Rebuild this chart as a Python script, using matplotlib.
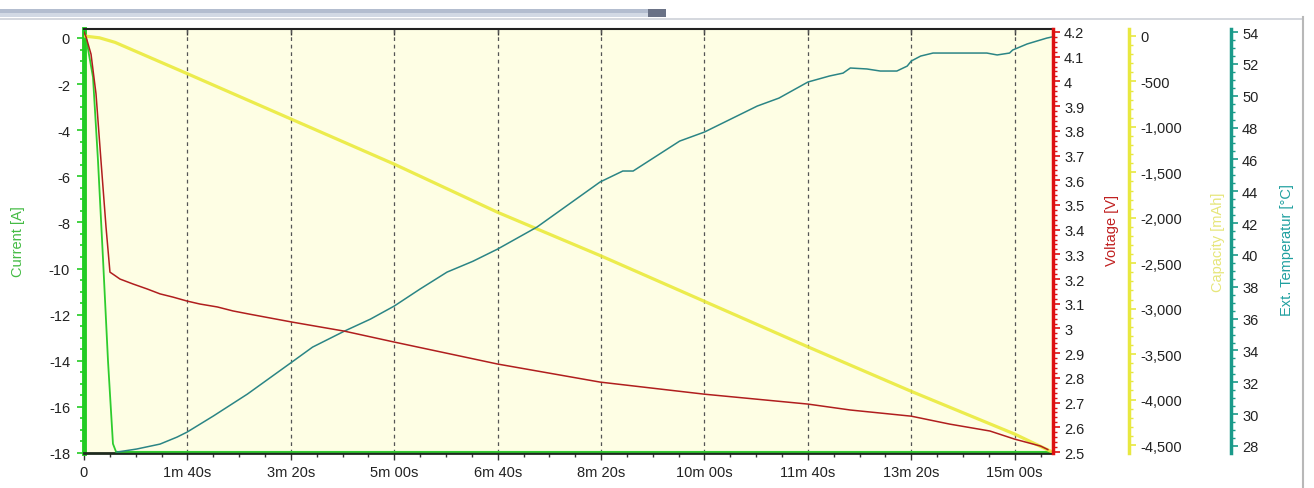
import numpy as np
import matplotlib
matplotlib.use("Agg")
import matplotlib.pyplot as plt
from matplotlib.ticker import MultipleLocator, FuncFormatter
from matplotlib.patches import Rectangle
from matplotlib.lines import Line2D

plt.rcParams["font.family"] = ["Liberation Sans", "DejaVu Sans"]
plt.rcParams["axes.unicode_minus"] = False

# time in seconds
time_current = [0, 2, 8.7, 13.5, 18.4, 23.2, 28, 31, 937]
current = [0, 0, -1.7, -5.3, -9.6, -14.0, -17.6, -17.95, -17.95]

time_voltage = [0, 2, 6.8, 11.6, 16.4, 21.3, 25.1, 30, 34.8, 47.4, 61, 73.5, 86,
                99.6, 112, 129, 144, 160, 201, 252, 300, 400, 499, 600, 700, 741,
                800, 837, 876, 900, 925, 932]
voltage = [4.20, 4.18, 4.11, 3.95, 3.68, 3.41, 3.228, 3.214, 3.200, 3.180, 3.160,
           3.140, 3.127, 3.111, 3.099, 3.087, 3.071, 3.058, 3.026, 2.989, 2.945,
           2.856, 2.783, 2.734, 2.694, 2.670, 2.645, 2.613, 2.585, 2.552, 2.524,
           2.510]

time_capacity = [0, 15, 30, 100, 300, 400, 500, 600, 700, 800, 900, 935]
capacity = [0, -20, -70, -415, -1410, -1940, -2420, -2920, -3420, -3910, -4380, -4570]

time_temp = [32, 51, 73.5, 90, 99.6, 125, 158, 201, 221, 252, 277, 300, 325, 351,
             376, 400, 438, 499, 521, 531, 576, 600, 651, 672, 700, 721, 734, 741,
             757, 770, 786, 796, 800, 809, 821, 873, 883, 895, 898, 912, 931, 936]
temp = [27.62, 27.81, 28.12, 28.56, 28.87, 29.88, 31.26, 33.27, 34.21, 35.22,
        35.97, 36.79, 37.86, 38.92, 39.60, 40.37, 41.75, 44.58, 45.27, 45.27,
        47.15, 47.72, 49.35, 49.85, 50.86, 51.24, 51.42, 51.74, 51.68, 51.55,
        51.55, 51.86, 52.18, 52.49, 52.68, 52.68, 52.56, 52.68, 52.87, 53.25,
        53.62, 53.69]

W, H = 1314, 489
fig = plt.figure(figsize=(W / 100, H / 100), dpi=100)
fig.patch.set_facecolor("white")

left, right, top, bottom = 84, 1053, 30, 454
ax = fig.add_axes([left / W, (H - bottom) / H, (right - left) / W, (bottom - top) / H])
ax.set_facecolor("#FEFEE4")

label_kw = dict(fontsize=10.5)
tick_color = "#222222"

# --- current (main axis) ---
ax.plot(time_current, current, color="#2ECC2E", lw=1.3, zorder=3)
ax.set_xlim(0, 937)
ax.set_ylim(-18, 0.39)
ax.yaxis.set_major_locator(MultipleLocator(2))
ax.yaxis.set_minor_locator(MultipleLocator(0.5))
ax.xaxis.set_major_locator(MultipleLocator(100))
ax.xaxis.set_minor_locator(MultipleLocator(25))


def fmt_time(v, pos):
    if abs(v) < 1e-6:
        return "0"
    m, s = divmod(int(round(v)), 60)
    return f"{m}m {s:02d}s"


ax.xaxis.set_major_formatter(FuncFormatter(fmt_time))
ax.yaxis.set_major_formatter(FuncFormatter(lambda v, p: f"{v:.0f}"))
ax.grid(axis="x", which="major", color="#555555", ls=(0, (3, 3)), lw=0.9)
ax.tick_params(axis="x", which="both", colors="#333333", labelcolor=tick_color,
               labelsize=10.5, pad=4)
ax.tick_params(axis="x", which="major", length=5, width=1)
ax.tick_params(axis="x", which="minor", length=3, width=1)
ax.tick_params(axis="y", which="both", colors="#22CC22", labelcolor=tick_color,
               labelsize=10.5, pad=5)
ax.tick_params(axis="y", which="major", length=5, width=1.2)
ax.tick_params(axis="y", which="minor", length=3, width=1.2)
ax.spines["left"].set_color("#22CC22")
ax.spines["left"].set_linewidth(3.5)
ax.spines["bottom"].set_color("#1E2A1E")
ax.spines["bottom"].set_linewidth(2)
ax.spines["top"].set_color("#222222")
ax.spines["top"].set_linewidth(1.5)
ax.spines["right"].set_visible(False)
ax.set_ylabel("Current [A]", color="#44BB44", **label_kw)
ax.yaxis.set_label_coords(-0.061, 0.5)

top_ax = ax.secondary_xaxis("top")
top_ax.xaxis.set_major_locator(MultipleLocator(100))
top_ax.tick_params(axis="x", direction="in", length=4, width=1, colors="#333333",
                   labeltop=False)
top_ax.spines["top"].set_visible(False)

# --- capacity ---
ax_cap = ax.twinx()
ax_cap.plot(time_capacity, capacity, color="#EAEA3C", lw=2.3, alpha=0.9)
ax_cap.set_ylim(-4588, 77)
ax_cap.yaxis.set_major_locator(MultipleLocator(500))
ax_cap.yaxis.set_minor_locator(MultipleLocator(100))
ax_cap.yaxis.set_major_formatter(FuncFormatter(lambda v, p: f"{v:,.0f}"))

# --- temperature ---
ax_t = ax.twinx()
ax_t.plot(time_temp, temp, color="#2B8585", lw=1.1)
ax_t.set_ylim(27.56, 54.19)
ax_t.yaxis.set_major_locator(MultipleLocator(2))
ax_t.yaxis.set_minor_locator(MultipleLocator(0.5))
ax_t.yaxis.set_major_formatter(FuncFormatter(lambda v, p: f"{v:.0f}"))

# --- voltage ---
ax_v = ax.twinx()
ax_v.plot(time_voltage, voltage, color="#B01E1E", lw=1.1)
ax_v.set_ylim(2.496, 4.212)
ax_v.yaxis.set_major_locator(MultipleLocator(0.1))
ax_v.yaxis.set_minor_locator(MultipleLocator(0.02))
ax_v.yaxis.set_major_formatter(FuncFormatter(lambda v, p: f"{round(v, 1):g}"))

for a, pos, col, lab, lcol, lx, ly in [
    (ax_v, 1.0, "#DD1111", "Voltage [V]", "#C02020", 1.054, 0.528),
    (ax_cap, 1.0785, "#E8E840", "Capacity [mAh]", "#E6E67A", 1.163, 0.50),
    (ax_t, 1.1837, "#1A9A8A", "Ext. Temperatur [°C]", "#20A0A0", 1.234, 0.48),
]:
    for s in ("left", "top", "bottom"):
        a.spines[s].set_visible(False)
    a.spines["right"].set_position(("axes", pos))
    a.spines["right"].set_color(col)
    a.spines["right"].set_linewidth(2.5)
    a.tick_params(axis="y", which="both", colors=col, labelcolor=tick_color,
                  labelsize=10.5, pad=3)
    a.tick_params(axis="y", which="major", length=5, width=1.2)
    a.tick_params(axis="y", which="minor", length=3, width=1)
    a.set_ylabel(lab, color=lcol, rotation=90, **label_kw)
    a.yaxis.set_label_coords(lx, ly)

# window chrome of the screenshot
fig.add_artist(Rectangle((0, 1 - 14 / H), 648 / W, 4 / H, transform=fig.transFigure,
                         color="#B3BDCF", lw=0))
fig.add_artist(Rectangle((0, 1 - 18 / H), 648 / W, 4 / H, transform=fig.transFigure,
                         color="#D2D9E4", lw=0))
fig.add_artist(Rectangle((648 / W, 1 - 18 / H), 18 / W, 8 / H, transform=fig.transFigure,
                         color="#6A7286", lw=0))
fig.add_artist(Line2D([0, 1303 / W], [1 - 20 / H, 1 - 20 / H], transform=fig.transFigure,
                      color="#CDD1D8", lw=1.2))
fig.add_artist(Line2D([1303 / W, 1303 / W], [0, 1 - 18 / H], transform=fig.transFigure,
                      color="#B8B8B8", lw=1.5))

fig.savefig("out.png", dpi=100)
